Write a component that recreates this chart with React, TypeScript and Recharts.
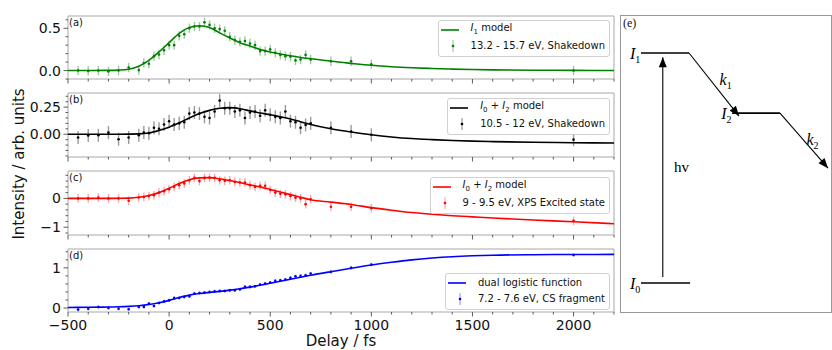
import React from "react";
import { ComposedChart, Line, Scatter, ErrorBar, XAxis, YAxis, ReferenceArea } from "recharts";

const FONT = "DejaVu Sans";

// pump-probe delays (fs) of the measured points
const delays = [
  -450, -400, -350, -300, -250, -200, -150, -125, -100, -75, -50, -25, 0, 25, 50, 75, 100, 125,
  150, 175, 200, 225, 250, 275, 300, 325, 350, 375, 400, 425, 450, 475, 500, 525, 550, 575, 600,
  625, 650, 675, 700, 800, 900, 1000, 2000,
];

// delays where the fitted model curves are sampled
const modelDelays = [
  -500, -400, -300, -250, -200, -150, -100, -50, 0, 50, 100, 150, 200, 250, 300, 350, 400, 450,
  500, 550, 600, 650, 700, 800, 900, 1000, 1100, 1200, 1300, 1400, 1500, 1600, 1800, 2000, 2200,
];

// (a) 13.2 - 15.7 eV shakedown
const shakedownHigh = [
  0.0, -0.005, 0.0, -0.01, 0.0, 0.035, 0.005, 0.09, 0.08, 0.17, 0.19, 0.24, 0.3, 0.3, 0.41, 0.43,
  0.5, 0.52, 0.52, 0.57, 0.54, 0.5, 0.49, 0.47, 0.4, 0.36, 0.34, 0.35, 0.32, 0.3, 0.23, 0.23, 0.25,
  0.21, 0.185, 0.17, 0.165, 0.12, 0.13, 0.185, 0.13, 0.11, 0.11, 0.075, 0.0,
];
const modelI1 = [
  0, 0, 0.002, 0.005, 0.015, 0.05, 0.12, 0.22, 0.33, 0.44, 0.51, 0.53, 0.51, 0.445, 0.385, 0.33,
  0.29, 0.25, 0.22, 0.195, 0.175, 0.155, 0.14, 0.11, 0.085, 0.062, 0.045, 0.033, 0.024, 0.017,
  0.012, 0.008, 0.004, 0.002, 0.001,
];

// (b) 10.5 - 12 eV shakedown
const shakedownLow = [
  -0.03, -0.012, -0.01, 0.015, -0.046, -0.03, -0.01, 0.015, 0.01, 0.06, 0.05, 0.09, 0.12, 0.09,
  0.1, 0.11, 0.19, 0.2, 0.19, 0.16, 0.15, 0.21, 0.31, 0.24, 0.24, 0.21, 0.22, 0.15, 0.2, 0.21,
  0.17, 0.22, 0.18, 0.16, 0.15, 0.21, 0.12, 0.11, 0.06, 0.086, 0.1, 0.06, 0.025, -0.005, -0.05,
];
const modelI02Shake = [
  0, 0, 0, 0, 0.001, 0.003, 0.012, 0.035, 0.065, 0.105, 0.15, 0.19, 0.22, 0.24, 0.245, 0.235,
  0.215, 0.195, 0.18, 0.16, 0.14, 0.115, 0.09, 0.05, 0.02, -0.005, -0.025, -0.04, -0.05, -0.058,
  -0.064, -0.068, -0.074, -0.078, -0.081,
];

// (c) 9 - 9.5 eV XPS excited state
const xpsExcited = [
  0, 0, 0.03, 0, 0, -0.08, 0.03, 0.05, 0.08, 0.11, 0.2, 0.25, 0.32, 0.4, 0.46, 0.52, 0.63, 0.71,
  0.6, 0.71, 0.72, 0.71, 0.63, 0.61, 0.63, 0.57, 0.55, 0.55, 0.46, 0.4, 0.44, 0.44, 0.29, 0.2,
  0.16, 0.14, 0.08, 0.02, 0.0, -0.2, -0.03, -0.29, -0.29, -0.34, -0.78,
];
const modelI02Xps = [
  0, 0, 0, 0.003, 0.01, 0.04, 0.1, 0.2, 0.35, 0.52, 0.65, 0.71, 0.72, 0.68, 0.62, 0.55, 0.47,
  0.4, 0.31, 0.22, 0.13, 0.04, -0.05, -0.13, -0.21, -0.32, -0.41, -0.49, -0.55, -0.6, -0.64,
  -0.68, -0.75, -0.81, -0.88,
];

// (d) 7.2 - 7.6 eV CS fragment
const csFragment = [
  -0.04, -0.02, 0.025, 0.0, -0.02, -0.03, 0.025, 0.025, 0.11, 0.05, 0.125, 0.165, 0.19, 0.25,
  0.25, 0.275, 0.29, 0.36, 0.375, 0.385, 0.4, 0.415, 0.425, 0.425, 0.44, 0.44, 0.465, 0.525,
  0.525, 0.54, 0.585, 0.61, 0.635, 0.675, 0.69, 0.71, 0.75, 0.79, 0.8, 0.815, 0.86, 0.9, 1.0,
  1.08, 1.32,
];
const dualLogistic = [
  0.012, 0.017, 0.024, 0.03, 0.04, 0.056, 0.085, 0.13, 0.19, 0.26, 0.32, 0.36, 0.39, 0.415, 0.445,
  0.48, 0.52, 0.565, 0.615, 0.665, 0.715, 0.765, 0.815, 0.905, 0.99, 1.07, 1.14, 1.2, 1.245,
  1.278, 1.3, 1.315, 1.328, 1.333, 1.336,
];

const xTicks = [
  -500, -400, -300, -200, -100, 0, 100, 200, 300, 400, 500, 600, 700, 800, 900, 1000, 1100, 1200,
  1300, 1400, 1500, 1600, 1700, 1800, 1900, 2000, 2100, 2200,
];
const xMajor = [-500, 0, 500, 1000, 1500, 2000];
const xLabels = ["\u2212500", "0", "500", "1000", "1500", "2000"];

const panels = [
  {
    tag: "(a)",
    color: "#008000",
    errColor: "rgba(0,128,0,0.4)",
    points: shakedownHigh,
    model: modelI1,
    err: 0.055,
    domain: [-0.1, 0.645],
    yTicks: [-0.1, 0, 0.1, 0.2, 0.3, 0.4, 0.5, 0.6],
    yMajor: [0, 0.5],
    yLabels: ["0.0", "0.5"],
    top: 16,
    h: 63,
    legendTop: 20,
    modelName: (
      <>
        <i>I</i>
        <sub style={{ fontSize: 7 }}>1</sub> model
      </>
    ),
    seriesName: "13.2 - 15.7 eV, Shakedown",
  },
  {
    tag: "(b)",
    color: "#000000",
    errColor: "rgba(0,0,0,0.4)",
    points: shakedownLow,
    model: modelI02Shake,
    err: 0.06,
    domain: [-0.21, 0.38],
    yTicks: [-0.2, -0.15, -0.1, -0.05, 0, 0.05, 0.1, 0.15, 0.2, 0.25, 0.3, 0.35],
    yMajor: [0, 0.25],
    yLabels: ["0.00", "0.25"],
    top: 93,
    h: 64,
    legendTop: 98,
    modelName: (
      <>
        <i>I</i>
        <sub style={{ fontSize: 7 }}>0</sub> + <i>I</i>
        <sub style={{ fontSize: 7 }}>2</sub> model
      </>
    ),
    seriesName: "10.5 - 12 eV, Shakedown",
  },
  {
    tag: "(c)",
    color: "#ff0000",
    errColor: "rgba(255,0,0,0.35)",
    points: xpsExcited,
    model: modelI02Xps,
    err: 0.15,
    domain: [-1.27, 0.95],
    yTicks: [-1.2, -1, -0.8, -0.6, -0.4, -0.2, 0, 0.2, 0.4, 0.6, 0.8],
    yMajor: [-1, 0],
    yLabels: ["\u22121", "0"],
    top: 171,
    h: 64,
    legendTop: 177,
    modelName: (
      <>
        <i>I</i>
        <sub style={{ fontSize: 7 }}>0</sub> + <i>I</i>
        <sub style={{ fontSize: 7 }}>2</sub> model
      </>
    ),
    seriesName: "9 - 9.5 eV, XPS Excited state",
  },
  {
    tag: "(d)",
    color: "#0000ff",
    errColor: "rgba(0,0,255,0.4)",
    points: csFragment,
    model: dualLogistic,
    err: 0.04,
    domain: [-0.1, 1.47],
    yTicks: [0, 0.2, 0.4, 0.6, 0.8, 1, 1.2, 1.4],
    yMajor: [0, 1],
    yLabels: ["0", "1"],
    top: 249,
    h: 63,
    legendTop: 273,
    modelName: <>dual logistic function</>,
    seriesName: "7.2 - 7.6 eV, CS fragment",
  },
];

// energy level scheme (e), in 0-100 diagram units
const levels = [
  { x1: 9.5, x2: 32.4, y: 87.5 },
  { x1: 52.9, x2: 75.7, y: 67.2 },
  { x1: 9.5, x2: 32.9, y: 9.8 },
];
const transitions = [
  { x1: 19.9, y1: 11.8, x2: 19.9, y2: 86.1 },
  { x1: 32.4, y1: 87.5, x2: 56.2, y2: 66.2 },
  { x1: 75.7, y1: 67.2, x2: 98.6, y2: 48.6 },
];
const schemeLabels = [
  { text: "I", sub: "1", x: 9.2, y: 87.5, anchor: "end", italic: true },
  { text: "I", sub: "2", x: 52.6, y: 67.2, anchor: "end", italic: true },
  { text: "I", sub: "0", x: 9.2, y: 9.6, anchor: "end", italic: true },
  { text: "k", sub: "1", x: 49.8, y: 78.6, anchor: "middle", italic: true },
  { text: "k", sub: "2", x: 91.2, y: 58.3, anchor: "middle", italic: true },
  { text: "hv", sub: "", x: 25.2, y: 49, anchor: "start", italic: false },
];

const SCHEME_W = 210;
const SCHEME_H = 296;

function XTick(props: any) {
  const { x, y, payload, showLabels } = props;
  const idx = xMajor.indexOf(payload.value);
  const major = idx >= 0;
  return (
    <g>
      <line x1={x} x2={x} y1={y} y2={y + (major ? 4.5 : 2.5)} stroke="#333" strokeWidth={0.8} />
      {showLabels && major && (
        <text x={x} y={y + 8} dy="0.71em" textAnchor="middle" fontSize={14} fontFamily={FONT} fill="#111">
          {xLabels[idx]}
        </text>
      )}
    </g>
  );
}

function YTick(props: any) {
  const { x, y, payload, majors, labels } = props;
  const idx = majors.findIndex((m: number) => Math.abs(m - payload.value) < 1e-6);
  const major = idx >= 0;
  return (
    <g>
      <line x1={x - (major ? 4.5 : 2.5)} x2={x} y1={y} y2={y} stroke="#333" strokeWidth={0.8} />
      {major && (
        <text x={x - 7} y={y} dy="0.36em" textAnchor="end" fontSize={14} fontFamily={FONT} fill="#111">
          {labels[idx]}
        </text>
      )}
    </g>
  );
}

function Dot(props: any) {
  return <circle cx={props.cx} cy={props.cy} r={1.3} fill={props.fill} />;
}

function LegendBox({ p }: { p: any }) {
  return (
    <div
      style={{
        position: "absolute",
        top: p.legendTop,
        right: 222,
        background: "rgba(255,255,255,0.85)",
        border: "1px solid #d0d0d0",
        borderRadius: 3,
        padding: "1px 4px 2px 1px",
        fontFamily: FONT,
        fontSize: 10,
        lineHeight: "16px",
        color: "#111",
        whiteSpace: "nowrap",
      }}
    >
      <div style={{ display: "flex", alignItems: "center", height: 16 }}>
        <svg width={31} height={16}>
          <line x1={1} x2={19} y1={8} y2={8} stroke={p.color} strokeWidth={1.6} />
        </svg>
        <span>{p.modelName}</span>
      </div>
      <div style={{ display: "flex", alignItems: "center", height: 16 }}>
        <svg width={31} height={16}>
          <line x1={13} x2={13} y1={2} y2={14} stroke={p.errColor} strokeWidth={1.2} />
          <circle cx={13} cy={8} r={1.3} fill={p.color} />
        </svg>
        <span>{p.seriesName}</span>
      </div>
    </div>
  );
}

function Panel({ p, last }: { p: any; last: boolean }) {
  const xh = last ? 38 : 8;
  const height = 4 + p.h + xh;
  const pts = delays.map((t, i) => ({ t, v: p.points[i], e: p.err }));
  const fit = modelDelays.map((t, i) => ({ t, m: p.model[i] }));
  return (
    <div style={{ position: "absolute", left: 0, top: p.top - 4, width: 832, height }}>
      <ComposedChart width={832} height={height} margin={{ top: 4, right: 218, bottom: 0, left: 8 }}>
        <XAxis
          type="number"
          dataKey="t"
          domain={[-500, 2200]}
          ticks={xTicks}
          interval={0}
          allowDataOverflow
          axisLine={false}
          tickLine={false}
          tickSize={0}
          tickMargin={0}
          height={xh}
          tick={(tp: any) => <XTick {...tp} showLabels={last} />}
          label={
            last
              ? { value: "Delay / fs", position: "insideBottom", offset: 4, fontSize: 15, fontFamily: FONT, fill: "#111" }
              : undefined
          }
        />
        <YAxis
          type="number"
          domain={p.domain}
          ticks={p.yTicks}
          interval={0}
          allowDataOverflow
          width={60}
          axisLine={false}
          tickLine={false}
          tickSize={0}
          tickMargin={0}
          tick={(tp: any) => <YTick {...tp} majors={p.yMajor} labels={p.yLabels} />}
        />
        <ReferenceArea
          x1={-500}
          x2={2200}
          y1={p.domain[0]}
          y2={p.domain[1]}
          fill="none"
          stroke="#a8a8a8"
          strokeWidth={1}
          ifOverflow="visible"
        />
        <Scatter data={pts} dataKey="v" fill={p.color} shape={<Dot />} isAnimationActive={false}>
          <ErrorBar dataKey="e" direction="y" width={0} stroke={p.errColor} strokeWidth={1.4} />
        </Scatter>
        <Line
          data={fit}
          dataKey="m"
          type="monotone"
          stroke={p.color}
          strokeWidth={1.6}
          dot={false}
          activeDot={false}
          isAnimationActive={false}
        />
      </ComposedChart>
      <div
        style={{
          position: "absolute",
          left: 69,
          top: 4,
          fontFamily: FONT,
          fontSize: 10,
          lineHeight: "14px",
          color: "#111",
        }}
      >
        {p.tag}
      </div>
    </div>
  );
}

// arrowhead drawn at the end point of a transition line
function arrowHead(tr: any) {
  return (dp: any) => {
    if (dp.index !== 1) return <g key={dp.key} />;
    const dx = ((tr.x2 - tr.x1) * SCHEME_W) / 100;
    const dy = (-(tr.y2 - tr.y1) * SCHEME_H) / 100;
    const a = Math.atan2(dy, dx);
    const len = 10;
    const half = 4;
    const bx = dp.cx - len * Math.cos(a);
    const by = dp.cy - len * Math.sin(a);
    const pts = [
      [dp.cx, dp.cy],
      [bx - half * Math.sin(a), by + half * Math.cos(a)],
      [bx + half * Math.sin(a), by - half * Math.cos(a)],
    ]
      .map((q) => q.join(","))
      .join(" ");
    return <polygon key={dp.key} points={pts} fill="#000" />;
  };
}

function SchemeLabel(props: any) {
  const s = props.payload;
  return (
    <text
      x={props.cx}
      y={props.cy}
      dy="0.35em"
      textAnchor={s.anchor}
      fontFamily="Liberation Serif"
      fontSize={s.italic ? 16 : 15}
      fill="#000"
    >
      <tspan fontStyle={s.italic ? "italic" : "normal"}>{s.text}</tspan>
      {s.sub && (
        <tspan fontSize={10} dy={4}>
          {s.sub}
        </tspan>
      )}
    </text>
  );
}

function Scheme() {
  return (
    <div
      style={{
        position: "absolute",
        left: 620,
        top: 15,
        width: 212,
        height: 298,
        boxSizing: "border-box",
        border: "1px solid #999",
      }}
    >
      <ComposedChart width={SCHEME_W} height={SCHEME_H} margin={{ top: 0, right: 0, bottom: 0, left: 0 }}>
        <XAxis type="number" dataKey="x" domain={[0, 100]} hide allowDataOverflow />
        <YAxis type="number" domain={[0, 100]} hide allowDataOverflow />
        {levels.map((l, i) => (
          <Line
            key={"l" + i}
            data={[
              { x: l.x1, y: l.y },
              { x: l.x2, y: l.y },
            ]}
            dataKey="y"
            type="linear"
            stroke="#000"
            strokeWidth={1.6}
            dot={false}
            activeDot={false}
            isAnimationActive={false}
          />
        ))}
        {transitions.map((tr, i) => (
          <Line
            key={"a" + i}
            data={[
              { x: tr.x1, y: tr.y1 },
              { x: tr.x2, y: tr.y2 },
            ]}
            dataKey="y"
            type="linear"
            stroke="#000"
            strokeWidth={1.1}
            dot={arrowHead(tr)}
            activeDot={false}
            isAnimationActive={false}
          />
        ))}
        <Scatter data={schemeLabels} dataKey="y" shape={<SchemeLabel />} isAnimationActive={false} />
      </ComposedChart>
      <div
        style={{
          position: "absolute",
          left: 2,
          top: 0,
          fontFamily: "Liberation Serif",
          fontSize: 12,
          color: "#111",
        }}
      >
        (e)
      </div>
    </div>
  );
}

export default function App() {
  return (
    <div style={{ position: "absolute", left: 0, top: 0, width: 832, height: 350, background: "#fff" }}>
      {panels.map((p, i) => (
        <Panel key={p.tag} p={p} last={i === panels.length - 1} />
      ))}
      {panels.map((p) => (
        <LegendBox key={"lg" + p.tag} p={p} />
      ))}
      <div
        style={{
          position: "absolute",
          left: 19,
          top: 164,
          transform: "translate(-50%, -50%) rotate(-90deg)",
          whiteSpace: "nowrap",
          fontFamily: FONT,
          fontSize: 15,
          color: "#111",
        }}
      >
        Intensity / arb. units
      </div>
      <Scheme />
    </div>
  );
}
